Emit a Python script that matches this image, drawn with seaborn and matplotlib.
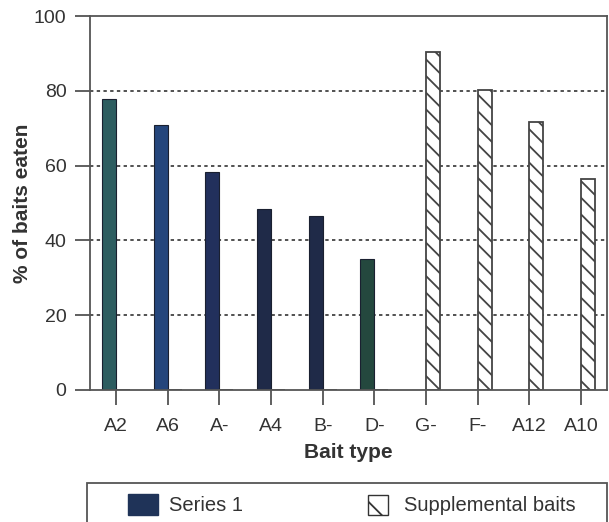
import numpy as np
import pandas as pd
import matplotlib
matplotlib.use("Agg")
import matplotlib.pyplot as plt
import seaborn as sns
from matplotlib.patches import Patch, Rectangle
from matplotlib.legend_handler import HandlerPatch

# data
baits = ["A2", "A6", "A-", "A4", "B-", "D-", "G-", "F-", "A12", "A10"]
series1 = [77.7, 70.8, 58.2, 48.3, 46.6, 34.9, 0, 0, 0, 0]
supplemental = [0, 0, 0, 0, 0, 0, 90.3, 80.2, 71.6, 56.3]
series_names = ["Series 1", "Supplemental baits"]

# scanned-look colours for the filled bars
bar_colors = ["#2d5d60", "#25467c", "#22305c", "#1f2a48", "#1f2a48", "#24483e",
              "#1f2a48", "#1f2a48", "#1f2a48", "#1f2a48"]
edge = "#444444"
text_col = "#333333"

df = pd.DataFrame({
    "bait": baits * 2,
    "pct": series1 + supplemental,
    "series": [series_names[0]] * len(baits) + [series_names[1]] * len(baits),
})

sns.set_style("white")
plt.rcParams["font.family"] = ["Liberation Sans", "DejaVu Sans"]
plt.rcParams["hatch.linewidth"] = 1.3
plt.rcParams["hatch.color"] = edge

fig = plt.figure(figsize=(6.09, 5.22), dpi=100)
ax = fig.add_axes([0.1478, 0.2529, 0.8489, 0.7164])

sns.barplot(data=df, x="bait", y="pct", hue="series", hue_order=series_names,
            order=baits, width=0.54, dodge=True, legend=False, ax=ax,
            saturation=1, errorbar=None)

for i, bar in enumerate(ax.containers[0]):
    bar.set_facecolor(bar_colors[i])
    bar.set_edgecolor("#1a2030")
    bar.set_linewidth(0.8)
for bar in ax.containers[1]:
    bar.set_facecolor("white")
    bar.set_edgecolor(edge)
    bar.set_linewidth(1.3)
    bar.set_hatch("\\\\")

ax.set_xlim(-0.5, len(baits) - 0.5)
ax.set_ylim(0, 100)
ax.set_yticks([0, 20, 40, 60, 80, 100])
for y in [20, 40, 60, 80]:
    ax.axhline(y, color="#222222", lw=1.1, ls=(0, (2.2, 2.2)), zorder=0)
ax.set_axisbelow(True)

for s in ax.spines.values():
    s.set_visible(True)
    s.set_color("#555555")
    s.set_linewidth(1.3)

ax.tick_params(axis="x", direction="out", length=11, width=1.2, color=edge,
               labelsize=14, labelcolor=text_col, pad=9, bottom=True)
ax.tick_params(axis="y", direction="out", length=11, width=1.2, color=edge,
               labelsize=14, labelcolor=text_col, pad=6, left=True)

ax.set_xlabel("Bait type", fontsize=15, fontweight="bold", color=text_col, labelpad=6)
ax.set_ylabel("% of baits eaten", fontsize=15, fontweight="bold", color=text_col, labelpad=1)

# legend box at the bottom
fig.patches.append(Rectangle((87 / 609, -0.02), 520 / 609, 0.095, transform=fig.transFigure,
                             facecolor="none", edgecolor="#555555", lw=1.3))


def narrow_box(legend, orig_handle, xdescent, ydescent, width, height, fontsize):
    return Rectangle((-xdescent + width * 0.15, -ydescent), width * 0.7, height * 0.95)


handles = [Patch(facecolor="#1f3358", edgecolor="#1f3358", label=series_names[0]),
           Patch(facecolor="white", edgecolor="#333333", hatch="\\", label=series_names[1])]
fig.legend(handles=handles, loc="center", bbox_to_anchor=(0.578, 0.033), ncol=2,
           frameon=False, fontsize=14.5, handlelength=1.45, handleheight=1.2,
           handletextpad=0.55, columnspacing=6.0, labelcolor=text_col,
           handler_map={handles[1]: HandlerPatch(patch_func=narrow_box)})

fig.savefig("out.png", dpi=100)
